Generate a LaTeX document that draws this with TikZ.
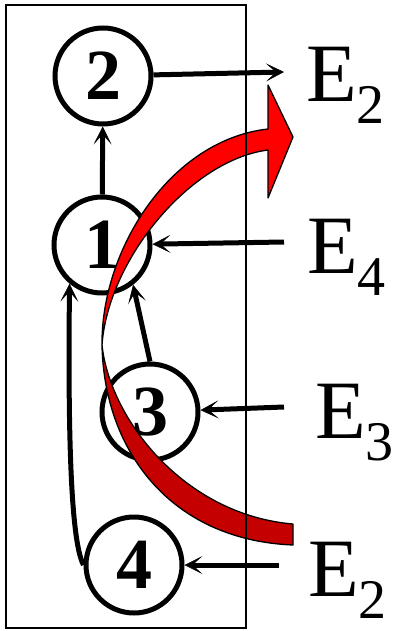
\documentclass[tikz,border=0pt]{standalone}
\usepackage{fontspec}
\setmainfont{Liberation Serif}
\usetikzlibrary{arrows.meta}
\definecolor{darkred}{RGB}{196,0,0}
\newcommand\lbl[2]{#1\raisebox{-22pt}{\fontsize{56}{56}\selectfont #2}}
\begin{document}
\begin{tikzpicture}[x=1pt,y=-1pt,
 circ/.style={circle,draw,line width=5pt,minimum size=96pt,inner sep=0pt,font=\fontsize{72}{72}\selectfont\bfseries},
 lab/.style={anchor=base west,inner sep=0pt,font=\fontsize{83}{83}\selectfont},
 arr/.style={line width=5pt,-{Stealth[length=18pt,width=18pt,inset=10pt,line width=0.5pt]}},
 ribbon/.style={draw=black,line width=1.3pt,line join=round}]
\useasboundingbox (0,0) rectangle (393,631);
\node[circ] (n2) at (103,76) {2};
\node[circ] (n1) at (102,245) {1};
\node[circ] (n3) at (150,412) {3};
\node[circ] (n4) at (134,565) {4};
\node[lab] (lE2a) at (306,102) {\lbl{E}{2}};
\node[lab] (lE4) at (307,273) {\lbl{E}{4}};
\node[lab] (lE3) at (315,438) {\lbl{E}{3}};
\node[lab] (lE2b) at (308,596) {\lbl{E}{2}};
\coordinate (h2) at (284,72);
\coordinate (t4) at (284,242);
\coordinate (t3) at (284,407);
\coordinate (t2b) at (279,565);
\draw[arr] (n2) -- (h2);
\draw[arr] (n1) -- (n2);
\draw[arr] (t4) -- (n1);
\draw[arr] (t3) -- (n3);
\draw[arr] (t2b) -- (n4);
\draw[arr] (n3.north) -- (n1.-52);
\draw[arr] (n4.west) .. controls (70,540) and (68,420) .. (n1.-130);
\filldraw[ribbon,fill=darkred] (102,345) .. controls (104,450) and (170,540) .. (293,545) -- (293,524) .. controls (185,515) and (110,420) .. (102,345) -- cycle;
\filldraw[ribbon,fill=red] (102,345) .. controls (101,250) and (170,140) .. (268,129) -- (268,85) -- (293,137) -- (268,198) -- (268,150) .. controls (190,160) and (108,260) .. (102,345) -- cycle;
\draw[line width=1.8pt] (6,5) rectangle (246,628);
\end{tikzpicture}
\end{document}
